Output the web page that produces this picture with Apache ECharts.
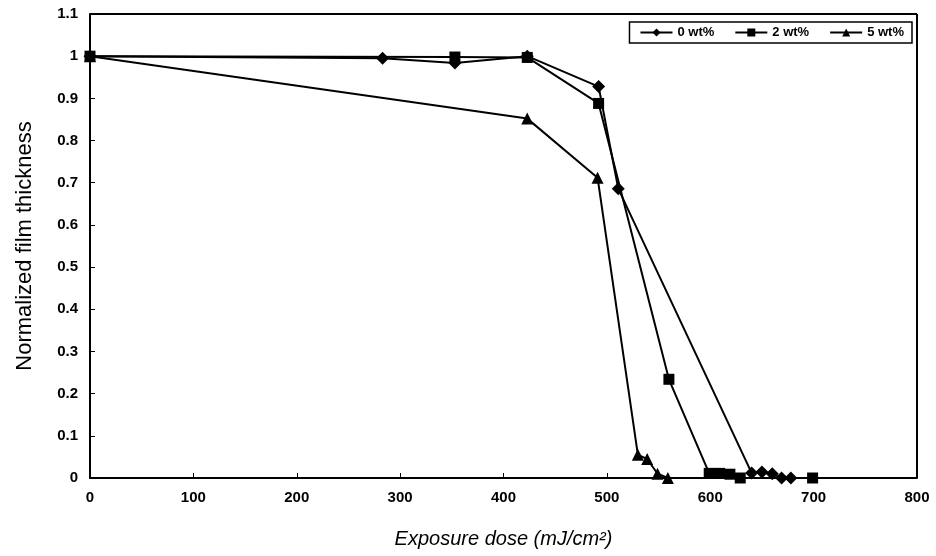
<!DOCTYPE html>
<html>
<head>
<meta charset="utf-8">
<script src="https://cdn.jsdelivr.net/npm/echarts@6/dist/echarts.min.js"></script>
<style>html,body{margin:0;padding:0;background:#fff;}#c{width:936px;height:556px;}</style>
</head>
<body>
<div id="c"></div>
<script>
// Data
var seriesNames = ['0 wt%', '2 wt%', '5 wt%'];
var dose0 = [0, 283, 353, 423, 492, 511, 640, 650, 660, 669, 678];
var thick0 = [1.0, 0.995, 0.984, 1.0, 0.928, 0.686, 0.012, 0.014, 0.01, 0.0, 0.0];
var dose2 = [0, 353, 423, 492, 560, 599, 609, 619, 629, 699];
var thick2 = [1.0, 0.998, 0.997, 0.888, 0.234, 0.011, 0.011, 0.009, 0.0, 0.0];
var dose5 = [0, 423, 491, 530, 539, 549, 559];
var thick5 = [1.0, 0.852, 0.712, 0.055, 0.045, 0.01, 0.0];
var xTicks = {min: 0, max: 800, step: 100};
var yTicks = {min: 0, max: 1.1, step: 0.1};

function pairs(xs, ys) { return xs.map(function (x, i) { return [x, ys[i]]; }); }

var font = 'Liberation Sans, Arial, sans-serif';
var symbols = ['diamond', 'rect', 'triangle'];
var sizes = [13, 11, 12];
var datasets = [pairs(dose0, thick0), pairs(dose2, thick2), pairs(dose5, thick5)];

var chart = echarts.init(document.getElementById('c'));
chart.setOption({
  animation: false,
  backgroundColor: '#fff',
  grid: {left: 90, right: 19, top: 14, bottom: 78},
  legend: {
    right: 24, top: 22,
    data: seriesNames,
    orient: 'horizontal',
    borderColor: '#000', borderWidth: 1.5,
    padding: [4, 8, 4, 10],
    itemGap: 20, itemWidth: 32, itemHeight: 10,
    textStyle: {fontFamily: font, fontSize: 13, fontWeight: 'bold', color: '#000'}
  },
  xAxis: {
    type: 'value', min: xTicks.min, max: xTicks.max, interval: xTicks.step,
    name: 'Exposure dose (mJ/cm²)', nameLocation: 'middle', nameGap: 51,
    nameTextStyle: {fontFamily: font, fontSize: 20, fontStyle: 'italic', color: '#000'},
    axisLine: {show: true, lineStyle: {color: '#000', width: 2}},
    axisTick: {show: true, inside: true, length: 5, lineStyle: {color: '#000'}},
    axisLabel: {fontFamily: font, fontSize: 15, fontWeight: 'bold', color: '#000', margin: 12},
    splitLine: {show: false}
  },
  yAxis: {
    type: 'value', min: yTicks.min, max: yTicks.max, interval: yTicks.step,
    name: 'Normalized film thickness', nameLocation: 'middle', nameGap: 54,
    nameTextStyle: {fontFamily: font, fontSize: 22, color: '#000'},
    axisLine: {show: true, lineStyle: {color: '#000', width: 2}},
    axisTick: {show: true, inside: true, length: 5, lineStyle: {color: '#000'}},
    axisLabel: {fontFamily: font, fontSize: 15, fontWeight: 'bold', color: '#000', margin: 12,
      formatter: function (v) { return String(Math.round(v * 10) / 10); }},
    splitLine: {show: false}
  },
  series: seriesNames.map(function (name, i) {
    var s = {
      name: name, type: 'line', data: datasets[i],
      symbol: symbols[i], symbolSize: sizes[i], showSymbol: true,
      itemStyle: {color: '#000'},
      lineStyle: {color: '#000', width: 2},
      clip: false, z: 3 + i
    };
    if (i === 0) {
      s.markLine = {
        silent: true, symbol: 'none', animation: false,
        label: {show: false},
        lineStyle: {color: '#000', width: 2, type: 'solid'},
        data: [
          [{coord: [xTicks.min, yTicks.max]}, {coord: [xTicks.max, yTicks.max]}],
          [{coord: [xTicks.max, yTicks.min]}, {coord: [xTicks.max, yTicks.max]}]
        ]
      };
    }
    return s;
  })
});
</script>
</body>
</html>
